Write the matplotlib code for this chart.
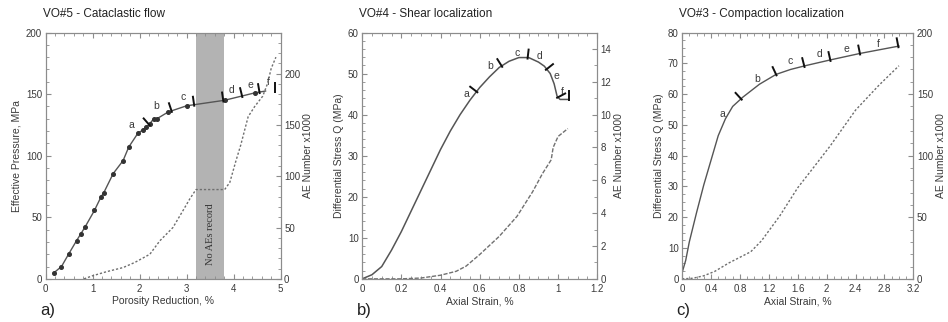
import numpy as np
import matplotlib
matplotlib.use("Agg")
from matplotlib import pyplot as plt
from matplotlib.ticker import MultipleLocator

# panel a: VO#5 cataclastic flow
a_por = [0.18, 0.34, 0.49, 0.66, 0.75, 0.84, 1.04, 1.18, 1.24, 1.44, 1.65, 1.77,
         1.97, 2.08, 2.13, 2.22, 2.30, 2.37, 2.61, 3.0, 3.81, 4.45, 4.68]
a_press = [5, 10, 20, 31, 36.5, 42, 55.5, 66.5, 70, 85.5, 96, 107,
           118.5, 121, 123, 126, 130, 130, 135.5, 140.5, 145, 151, 152.5]
a_ae_x = [0.82, 1.0, 1.3, 1.65, 1.9, 2.22, 2.43, 2.71, 2.93, 3.07, 3.2, 3.81,
          3.92, 4.05, 4.15, 4.31, 4.45, 4.62, 4.72, 4.8, 4.9]
a_ae_y = [0, 3, 7, 11, 16, 24, 37, 50, 67, 78, 87, 87,
          94, 115, 130, 158, 168, 178, 190, 205, 216]
a_bars = [2.2, 2.68, 3.16, 3.78, 4.18, 4.55, 4.89]
a_lab_x = [1.83, 2.36, 2.93, 3.95, 4.36, 4.73]
a_lab_y = [125, 140, 148, 153.5, 157.5, 159.5]
gap = (3.2, 3.8)

# panel b: VO#4 shear localization
b_strain = [0, 0.05, 0.1, 0.15, 0.2, 0.25, 0.3, 0.35, 0.4, 0.45, 0.5, 0.55, 0.6,
            0.65, 0.7, 0.75, 0.8, 0.85, 0.9, 0.93, 0.96, 0.98, 0.995, 1.01, 1.055]
b_stress = [0, 1, 3, 7, 11.5, 16.5, 21.5, 26.5, 31.5, 36, 40, 43.5, 46.6,
            49.2, 51.5, 53, 53.9, 53.9, 52.8, 51.8, 50, 47.5, 44.5, 43.7, 43.7]
b_ae_x = [0, 0.2, 0.3, 0.4, 0.48, 0.53, 0.6, 0.7, 0.79, 0.87, 0.92, 0.965,
          0.975, 1.0, 1.05]
b_ae_y = [0, 0, 0.05, 0.22, 0.46, 0.77, 1.48, 2.59, 3.8, 5.3, 6.4, 7.25,
          8.0, 8.67, 9.15]
b_bars = [0.584, 0.712, 0.845, 0.942, 1.0, 1.055]
b_lab_x = [0.533, 0.652, 0.789, 0.907, 0.99, 1.02]
b_lab_y = [45, 51.9, 55.1, 54.3, 49.4, 45.6]

# panel c: VO#3 compaction localization
c_strain = [0, 0.05, 0.1, 0.2, 0.3, 0.4, 0.5, 0.6, 0.7, 0.84, 1.07, 1.3,
            1.5, 1.7, 2.05, 2.46, 3.0]
c_stress = [2, 6, 12, 21.5, 30.5, 38.5, 46.5, 52, 56, 59, 63.2, 66.4,
            68, 69.2, 71.1, 73.2, 75.6]
c_ae_x = [0, 0.15, 0.3, 0.45, 0.65, 0.95, 1.1, 1.35, 1.6, 1.8, 2.05, 2.4, 2.72, 3.0]
c_ae_y = [0, 0.5, 2.5, 6, 13, 22, 31, 51, 74, 89, 108, 137, 157, 173]
c_bars = [0.815, 1.3, 1.69, 2.05, 2.46, 2.99]
c_lab_x = [0.563, 1.04, 1.49, 1.9, 2.27, 2.72]
c_lab_y = [53.4, 65, 70.8, 72.9, 74.6, 76.2]
stages = ["a", "b", "c", "d", "e", "f"]

plt.rcParams['font.family'] = ['Liberation Sans', 'DejaVu Sans']
GRID = '#8c8c8c'
TXT = '#3a3a3a'

fig = plt.figure(figsize=(9.48, 3.22), dpi=100)


def style(ax, right=False):
    for s in ax.spines.values():
        s.set_color(GRID)
        s.set_linewidth(0.8)
    ax.tick_params(which='both', direction='in', colors=GRID, labelcolor=TXT,
                   labelsize=7, top=not right, right=False, left=not right, pad=2.5)
    ax.tick_params(axis='x', pad=4)
    ax.tick_params(which='major', length=3.5)
    ax.tick_params(which='minor', length=2)


def bars(ax, xs, cx, cy):
    # short strokes across the curve, perpendicular to it in screen space
    T = ax.transData
    for x in xs:
        p0 = T.transform((x - 0.01, np.interp(x - 0.01, cx, cy)))
        p1 = T.transform((x + 0.01, np.interp(x + 0.01, cx, cy)))
        p = T.transform((x, np.interp(x, cx, cy)))
        t = (p1 - p0) / np.hypot(*(p1 - p0))
        n = np.array([-t[1], t[0]])
        seg = T.inverted().transform([p - 2 * n, p + 9 * n])
        ax.plot(seg[:, 0], seg[:, 1], color='#111111', lw=1.4,
                solid_capstyle='butt', zorder=5)


def panel(rect, title, letter, xlim, ylim, rlim, xlabel, ylabel):
    ax = fig.add_axes(rect)
    ax.set_xlim(*xlim)
    ax.set_ylim(*ylim)
    style(ax)
    ax.set_xlabel(xlabel, fontsize=7.5, color=TXT, labelpad=1.5)
    ax.set_ylabel(ylabel, fontsize=7.5, color=TXT, labelpad=3)
    rx = ax.twinx()
    rx.set_ylim(*rlim)
    style(rx, right=True)
    rx.tick_params(which='both', right=True)
    rx.set_ylabel("AE Number x1000", fontsize=7.5, color=TXT, labelpad=2)
    fig.text(rect[0] - 0.003, 0.955, title, fontsize=8.5, color='#222222',
             ha='left', va='center')
    fig.text(rect[0] - 0.006, 0.035, letter, fontsize=12, color='#222222',
             ha='left', va='center')
    return ax, rx


# ---- a
ax, rx = panel([0.048, 0.134, 0.248, 0.765], "VO#5 - Cataclastic flow", "a)",
               (0, 5), (0, 200), (0, 240), "Porosity Reduction, %",
               "Effective Pressure, MPa")
ax.xaxis.set_major_locator(MultipleLocator(1))
ax.xaxis.set_minor_locator(MultipleLocator(0.2))
ax.yaxis.set_major_locator(MultipleLocator(50))
ax.yaxis.set_minor_locator(MultipleLocator(10))
rx.yaxis.set_major_locator(MultipleLocator(50))
rx.yaxis.set_minor_locator(MultipleLocator(10))
ax.axvspan(*gap, color='#b3b3b3', lw=0, zorder=0)
ax.text(sum(gap) / 2, 36, "No AEs record", rotation=90, ha='center', va='center',
        fontsize=7.5, family='Liberation Serif', color='#333333')
ax.plot(a_por, a_press, color='#555555', lw=1.0, marker='o', ms=2.6,
        mfc='#333333', mec='#333333', markevery=list(range(len(a_por) - 1)))
rx.plot(a_ae_x, a_ae_y, color='#6e6e6e', lw=1.0, ls=(0, (1.6, 1.4)))
bars(ax, a_bars, a_por, a_press)
for s, x, y in zip(stages, a_lab_x, a_lab_y):
    ax.text(x, y, s, fontsize=7.5, color=TXT, ha='center', va='center')

# ---- b
ax, rx = panel([0.382, 0.134, 0.248, 0.765], "VO#4 - Shear localization", "b)",
               (0, 1.2), (0, 60), (0, 15), "Axial Strain, %",
               "Differential Stress Q (MPa)")
ax.xaxis.set_major_locator(MultipleLocator(0.2))
ax.xaxis.set_minor_locator(MultipleLocator(0.05))
ax.yaxis.set_major_locator(MultipleLocator(10))
ax.yaxis.set_minor_locator(MultipleLocator(2))
rx.yaxis.set_major_locator(MultipleLocator(2))
rx.yaxis.set_minor_locator(MultipleLocator(1))
ax.xaxis.set_major_formatter(lambda v, p: f"{v:g}")
ax.plot(b_strain, b_stress, color='#555555', lw=1.1)
rx.plot(b_ae_x, b_ae_y, color='#707070', lw=1.0, ls=(0, (3, 1.2)))
bars(ax, b_bars, b_strain, b_stress)
for s, x, y in zip(stages, b_lab_x, b_lab_y):
    ax.text(x, y, s, fontsize=7.5, color=TXT, ha='center', va='center')

# ---- c
ax, rx = panel([0.7195, 0.134, 0.244, 0.765], "VO#3 - Compaction localization", "c)",
               (0, 3.2), (0, 80), (0, 200), "Axial Strain, %",
               "Differential Stress Q (MPa)")
ax.xaxis.set_major_locator(MultipleLocator(0.4))
ax.xaxis.set_minor_locator(MultipleLocator(0.1))
ax.yaxis.set_major_locator(MultipleLocator(10))
ax.yaxis.set_minor_locator(MultipleLocator(2.5))
rx.yaxis.set_major_locator(MultipleLocator(50))
rx.yaxis.set_minor_locator(MultipleLocator(10))
ax.xaxis.set_major_formatter(lambda v, p: f"{v:g}")
ax.plot(c_strain, c_stress, color='#555555', lw=1.0)
rx.plot(c_ae_x, c_ae_y, color='#6e6e6e', lw=1.0, ls=(0, (1.6, 1.4)))
bars(ax, c_bars, c_strain, c_stress)
for s, x, y in zip(stages, c_lab_x, c_lab_y):
    ax.text(x, y, s, fontsize=7.5, color=TXT, ha='center', va='center')

fig.savefig("out.png", dpi=100)
